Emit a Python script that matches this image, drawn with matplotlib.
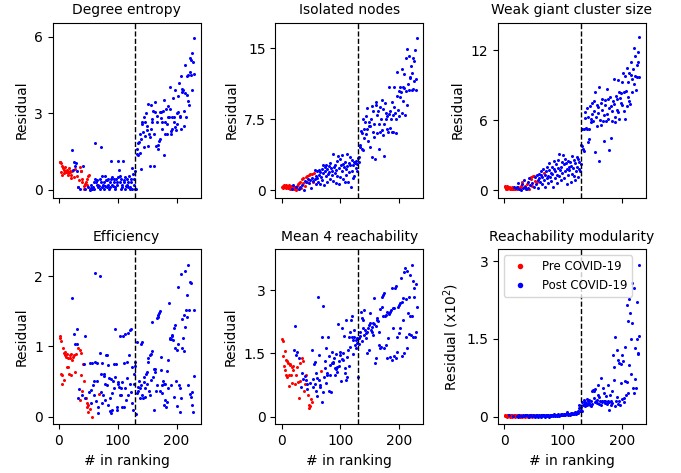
import numpy as np
import matplotlib
matplotlib.use("Agg")
import matplotlib.pyplot as plt

ranks = np.arange(1, 231)
cutoff = 130

titles = ["Degree entropy", "Isolated nodes", "Weak giant cluster size",
          "Efficiency", "Mean 4 reachability", "Reachability modularity"]
ylabels = ["Residual", "Residual", "Residual", "Residual", "Residual", "Residual (x10$^2$)"]
yticks = [[0, 3, 6], [0, 7.5, 15], [0, 6, 12], [0, 1, 2], [0, 1.5, 3], [0, 1.5, 3]]
yticklabels = [["0", "3", "6"], ["0", "7.5", "15"], ["0", "6", "12"],
               ["0", "1", "2"], ["0", "1.5", "3"], ["0", "1.5", "3"]]
xticks = [0, 100, 200]

# ---- Degree entropy ----
de_vals = [
    1.1, 1.1, 1.05, 0.7, 0.95, 0.6, 0.85, 0.8, 0.65, 0.75,
    0.9, 0.7, 0.75, 0.8, 0.6, 0.65, 0.85, 0.7, 0.75, 0.6,
    0.45, 0.75, 1.58, 0.8, 1.08, 0.5, 0.82, 0.95, 1.06, 0.76,
    0.55, 0.12, 0.1, 0.4, 0.04, 0.9, 0.75, 0.76, 0.43, 0.3,
    0.93, 0.17, 0.04, 0.24, 0.04, 0.33, 0.2, 0.43, 0.1, 0.56,
    0.6, 0.0, 0.05, 0.08, 0.2, 0.04, 0.02, 0.1, 0.3, 0.05,
    1.84, 0.43, 0.3, 0.2, 0.37, 0.1, 0.21, 0.15, 0.43, 0.04,
    1.67, 0.3, 0.56, 0.1, 0.2, 0.3, 0.04, 0.56, 0.15, 0.37,
    0.37, 0.1, 0.43, 0.2, 0.04, 0.3, 0.1, 1.15, 0.43, 0.2,
    0.5, 0.17, 0.3, 0.43, 0.04, 0.1, 0.43, 0.3, 0.2, 1.15,
    0.5, 0.78, 0.3, 0.56, 0.04, 0.43, 0.2, 0.1, 1.15, 0.3,
    0.37, 0.04, 0.5, 0.17, 0.43, 0.2, 0.3, 0.1, 0.56, 0.04,
    0.1, 0.43, 0.3, 0.86, 0.04, 0.63, 0.43, 0.2, 0.75, 0.04,
    0.04, 1.41, 1.6, 1.37, 1.84, 1.87, 2.2, 1.45, 0.82, 2.0,
    2.65, 2.59, 2.26, 1.7, 2.85, 2.1, 2.65, 3.0, 2.33, 2.5,
    1.71, 3.37, 2.2, 0.93, 2.07, 3.33, 2.4, 2.65, 2.78, 3.11,
    2.2, 0.93, 3.44, 3.07, 1.71, 2.65, 2.9, 1.61, 1.76, 1.93,
    2.0, 3.05, 2.8, 3.05, 2.68, 2.37, 3.1, 3.54, 1.37, 2.68,
    2.2, 3.18, 2.6, 2.2, 2.85, 3.3, 2.85, 4.03, 3.18, 2.3,
    2.2, 2.85, 2.39, 3.6, 2.68, 2.85, 3.9, 2.46, 2.33, 2.6,
    3.0, 3.67, 3.07, 4.2, 2.9, 2.85, 4.46, 2.39, 3.96, 3.83,
    3.9, 3.11, 2.52, 4.88, 3.8, 2.85, 3.7, 4.48, 4.5, 3.5,
    3.31, 4.6, 5.16, 5.07, 4.51, 3.9, 5.37, 5.0, 4.55, 5.96,
]
de_pre = list(range(1, 21)) + [21, 22, 26, 27, 31, 33, 34, 36, 37, 38, 39, 40,
                               42, 43, 44, 46, 47, 48, 50, 51, 53, 56, 67]

# ---- Isolated nodes ----
iso_vals = [
    0.3, 0.45, 0.2, 0.5, 0.35, 0.4, 0.25, 0.5, 0.3, 0.45,
    0.2, 0.35, 0.5, 0.15, 0.3, 0.4, 0.1, 0.25, 0.35, 0.5,
    0.1, 0.3, 0.2, 0.05, 0.35, 0.15, 0.4, 0.6, 0.1, 0.7,
    0.3, 0.9, 0.2, 1.2, 0.5, 0.7, 1.3, 0.05, 0.45, 1.0,
    1.4, 0.9, 0.8, 1.5, 1.2, 1.6, 0.7, 1.1, 1.7, 0.2,
    1.7, 1.3, 0.8, 1.0, 1.8, 2.1, 1.2, 0.6, 1.5, 2.0,
    1.3, 0.9, 2.1, 1.6, 0.6, 1.9, 1.4, 2.2, 1.1, 2.7,
    1.8, 0.5, 2.4, 2.0, 1.5, 2.7, 0.8, 2.2, 1.7, 2.5,
    1.9, 2.9, 1.2, 2.3, 1.6, 2.0, 1.0, 3.8, 2.4, 1.8,
    2.6, 0.7, 2.1, 3.1, 1.5, 3.6, 2.3, 0.6, 1.4, 3.3,
    2.7, 2.0, 3.7, 1.2, 2.8, 2.4, 0.9, 3.0, 2.2, 1.6,
    3.8, 2.5, 0.8, 2.9, 1.9, 3.5, 2.6, 0.3, 3.2, 2.0,
    1.3, 2.7, 3.0, 1.5, 2.9, 2.3, 3.1, 2.0, 2.8, 3.4,
    3.0, 3.46, 4.8, 4.5, 6.2, 4.3, 6.0, 4.2, 7.5, 5.5,
    6.5, 7.2, 5.9, 7.8, 6.5, 8.7, 5.2, 6.8, 7.2, 4.6,
    6.8, 7.5, 3.5, 8.9, 8.4, 6.1, 5.6, 7.0, 3.3, 9.0,
    9.3, 7.9, 6.0, 8.4, 7.0, 4.3, 6.1, 8.8, 7.5, 6.3,
    9.5, 5.8, 8.6, 7.0, 3.6, 9.2, 7.5, 8.2, 6.5, 7.8,
    6.1, 8.0, 10.9, 6.6, 8.4, 7.5, 6.1, 9.3, 6.1, 7.9,
    10.9, 8.8, 8.2, 6.0, 7.5, 10.0, 12.5, 8.5, 10.5, 7.8,
    10.9, 9.8, 10.4, 8.2, 12.8, 10.9, 9.4, 12.3, 10.8, 7.9,
    14.0, 10.5, 9.0, 14.9, 11.2, 10.6, 14.2, 11.8, 12.0, 13.1,
    10.6, 12.4, 14.0, 10.7, 11.5, 13.6, 14.8, 10.6, 11.7, 16.1,
]
iso_pre = list(range(1, 17)) + [18, 19, 21, 22, 23, 24, 26, 27, 28, 30, 32, 33, 34,
                                36, 37, 39, 41, 43, 44, 46, 49, 51, 53, 55]

# ---- Weak giant cluster size ----
wg_vals = [
    0.23, 0.37, 0.1, 0.09, 0.32, 0.15, 0.14, 0.23, 0.3, 0.05,
    0.09, 0.2, 0.1, 0.25, 0.09, 0.3, 0.05, 0.17, 0.12, 0.2,
    0.09, 0.3, 0.23, 0.6, 0.15, 0.1, 0.2, 0.37, 0.0, 0.5,
    0.66, 0.2, 0.23, 0.9, 0.3, 0.37, 0.1, 0.5, 0.09, 0.7,
    0.2, 0.09, 1.0, 0.4, 0.95, 1.09, 0.6, 0.37, 1.23, 0.3,
    1.23, 1.1, 0.8, 0.5, 1.3, 0.66, 0.9, 0.2, 1.4, 1.0,
    0.7, 1.3, 1.6, 0.5, 1.1, 1.8, 1.46, 0.9, 1.3, 0.3,
    1.6, 1.0, 2.0, 1.2, 0.6, 1.7, 2.3, 1.1, 1.5, 0.8,
    2.0, 1.4, 0.3, 1.8, 2.5, 1.0, 1.6, 2.2, 1.3, 0.6,
    2.6, 1.9, 1.2, 3.1, 1.7, 2.0, 0.9, 2.4, 1.5, 3.0,
    2.2, 1.0, 2.7, 1.6, 2.3, 0.5, 1.8, 2.5, 1.3, 2.0,
    1.7, 2.4, 0.7, 2.1, 1.4, 2.9, 1.9, 1.2, 2.6, 0.9,
    2.3, 1.6, 2.8, 2.0, 1.1, 2.7, 1.8, 2.4, 1.6, 2.2,
    3.87, 3.75, 5.2, 3.5, 3.38, 5.24, 6.2, 6.7, 5.3, 5.24,
    7.0, 6.3, 4.1, 4.38, 5.24, 7.2, 6.1, 5.8, 7.5, 6.5,
    5.9, 6.8, 7.6, 8.4, 3.24, 6.3, 7.25, 5.5, 7.1, 6.6,
    2.5, 8.8, 6.0, 7.5, 5.6, 7.8, 6.9, 5.9, 4.24, 6.4,
    7.7, 7.25, 5.9, 8.7, 6.5, 6.1, 7.8, 7.0, 3.47, 8.0,
    4.44, 7.2, 5.96, 6.8, 7.6, 9.5, 7.4, 6.3, 5.8, 8.1,
    6.9, 7.8, 6.7, 9.4, 8.4, 6.1, 7.9, 7.5, 8.3, 7.25,
    9.3, 10.0, 6.8, 8.4, 9.8, 6.1, 8.5, 7.2, 10.5, 8.0,
    9.25, 7.6, 10.0, 7.4, 9.9, 11.0, 8.4, 9.5, 10.4, 9.1,
    12.2, 9.8, 11.5, 8.6, 10.7, 9.7, 11.0, 11.8, 9.7, 13.1,
]
wg_pre = list(range(1, 16)) + [17, 18, 19, 21, 23, 25, 27, 28, 31, 33, 36, 38, 39,
                               42, 45, 46, 48, 49, 51, 53, 56, 67]

# ---- Efficiency ----
eff_vals = [
    1.14, 1.12, 0.6, 1.07, 0.46, 0.59, 0.98, 0.52, 0.9, 0.92,
    0.88, 0.85, 0.7, 0.89, 0.83, 0.71, 0.6, 0.87, 0.84, 0.59,
    0.89, 0.8, 1.69, 0.85, 1.18, 0.87, 1.04, 0.64, 0.89, 1.25,
    1.04, 0.97, 0.26, 0.39, 0.24, 0.95, 0.59, 0.9, 0.3, 0.37,
    0.75, 0.51, 0.75, 0.26, 1.15, 0.26, 0.19, 0.14, 0.07, 0.17,
    0.35, 0.76, 0.11, 0.2, 0.38, 0.76, 0.0, 0.45, 0.31, 0.5,
    0.78, 2.04, 0.22, 0.76, 0.5, 0.05, 0.13, 0.32, 0.9, 2.0,
    0.6, 0.35, 0.76, 0.19, 0.3, 0.6, 0.58, 0.46, 0.24, 0.88,
    0.87, 0.45, 0.74, 0.16, 0.55, 0.26, 0.08, 0.53, 0.05, 0.33,
    0.1, 0.5, 0.4, 0.75, 1.25, 0.56, 0.75, 0.14, 0.09, 0.49,
    0.47, 0.42, 0.3, 1.14, 0.31, 0.41, 0.49, 0.13, 1.15, 0.76,
    0.14, 1.17, 0.41, 0.23, 0.55, 0.77, 1.19, 0.31, 0.87, 0.47,
    1.23, 0.35, 1.25, 0.2, 0.71, 0.09, 0.46, 0.6, 0.78, 0.72,
    0.03, 1.06, 0.34, 0.37, 0.42, 0.5, 0.27, 0.4, 0.45, 1.04,
    1.06, 0.3, 0.26, 0.49, 0.57, 0.28, 0.4, 0.6, 0.64, 0.46,
    0.78, 0.83, 0.36, 0.31, 0.87, 0.52, 0.89, 0.93, 1.35, 0.57,
    0.1, 0.68, 0.63, 0.68, 0.36, 1.4, 0.45, 1.42, 1.45, 1.47,
    0.36, 1.5, 0.85, 0.66, 0.45, 0.33, 0.5, 0.17, 0.47, 0.46,
    0.24, 0.14, 0.21, 0.65, 0.4, 0.81, 1.61, 1.1, 1.12, 1.11,
    0.45, 1.14, 1.16, 1.09, 0.28, 1.26, 1.31, 0.97, 0.5, 0.95,
    0.15, 1.03, 1.84, 0.45, 0.07, 0.41, 0.26, 2.03, 1.39, 0.97,
    1.12, 1.44, 0.93, 2.07, 1.27, 1.52, 1.42, 1.73, 0.45, 2.16,
    1.52, 0.32, 1.92, 0.28, 1.9, 0.35, 0.16, 0.07, 1.52, 0.58,
]
eff_pre = list(range(1, 23)) + [24, 26, 28, 29, 32, 35, 36, 37, 38, 40, 41, 42,
                                46, 47, 48, 49, 50, 53, 57, 68]

# ---- Mean 4 reachability ----
m4_vals = [
    1.84, 1.8, 1.45, 1.21, 1.56, 1.11, 0.99, 1.35, 1.31, 0.95,
    1.27, 1.0, 0.74, 1.24, 1.23, 1.0, 1.19, 0.8, 1.21, 1.1,
    1.58, 0.77, 2.15, 1.46, 0.99, 1.54, 1.19, 0.82, 1.39, 0.44,
    1.27, 0.85, 0.7, 1.03, 1.39, 0.9, 1.31, 0.6, 0.77, 0.96,
    1.0, 0.87, 0.78, 0.65, 0.51, 0.28, 0.21, 0.26, 0.8, 0.42,
    0.36, 1.58, 0.71, 0.9, 1.24, 0.78, 1.29, 0.6, 1.03, 0.91,
    0.5, 2.85, 1.46, 0.87, 0.75, 0.71, 1.08, 1.9, 0.34, 2.63,
    0.59, 0.95, 1.31, 1.16, 0.8, 1.62, 1.03, 1.0, 1.88, 1.43,
    0.62, 1.23, 0.99, 0.58, 1.27, 1.54, 1.27, 1.3, 1.39, 1.16,
    0.99, 1.12, 1.48, 1.05, 1.19, 2.19, 1.31, 1.2, 1.53, 1.46,
    0.85, 2.11, 1.37, 1.5, 1.35, 1.92, 1.03, 1.16, 0.88, 2.3,
    1.42, 0.95, 1.58, 1.88, 1.2, 2.0, 1.65, 2.3, 1.9, 2.38,
    1.48, 1.82, 2.06, 1.88, 1.7, 1.62, 1.82, 1.75, 1.86, 0.95,
    1.86, 1.72, 1.92, 2.0, 2.49, 1.8, 2.34, 2.1, 2.3, 2.53,
    1.95, 2.05, 1.86, 1.98, 1.5, 2.02, 2.1, 1.58, 2.18, 2.22,
    2.46, 2.06, 2.02, 2.14, 1.95, 2.22, 2.81, 2.2, 1.27, 2.16,
    1.39, 2.3, 2.34, 2.26, 2.0, 1.7, 1.62, 2.55, 1.66, 2.85,
    2.61, 2.4, 2.89, 1.62, 2.93, 2.38, 2.41, 1.7, 2.49, 1.39,
    1.86, 2.44, 2.45, 2.49, 1.42, 2.53, 3.05, 1.35, 2.1, 2.57,
    1.45, 2.59, 3.06, 3.09, 1.4, 1.9, 1.53, 2.6, 1.98, 2.65,
    2.69, 2.1, 3.3, 1.45, 2.73, 2.3, 2.81, 1.52, 3.43, 3.52,
    1.88, 2.8, 1.64, 3.46, 2.45, 2.85, 1.96, 3.37, 2.38, 1.94,
    3.6, 2.38, 1.9, 3.21, 2.85, 3.05, 1.9, 2.02, 3.15, 2.61,
]
m4_pre = list(range(1, 21)) + [22, 25, 27, 28, 30, 31, 32, 35, 37, 38, 39, 41,
                               45, 46, 47, 48, 50, 51, 67]

# ---- Reachability modularity (x10^2) ----
rm_vals = [
    0.01, 0.02, 0.01, 0.0, 0.02, 0.01, 0.03, 0.01, 0.02, 0.0,
    0.02, 0.01, 0.0, 0.03, 0.01, 0.02, 0.01, 0.0, 0.02, 0.01,
    0.01, 0.03, 0.0, 0.02, 0.01, 0.02, 0.0, 0.01, 0.03, 0.01,
    0.0, 0.02, 0.01, 0.01, 0.03, 0.0, 0.02, 0.01, 0.02, 0.0,
    0.01, 0.02, 0.0, 0.03, 0.01, 0.02, 0.01, 0.0, 0.02, 0.01,
    0.02, 0.0, 0.01, 0.03, 0.01, 0.02, 0.0, 0.01, 0.02, 0.01,
    0.01, 0.02, 0.0, 0.02, 0.01, 0.03, 0.01, 0.02, 0.0, 0.01,
    0.02, 0.01, 0.03, 0.01, 0.02, 0.0, 0.01, 0.03, 0.02, 0.01,
    0.02, 0.03, 0.01, 0.02, 0.04, 0.01, 0.03, 0.02, 0.01, 0.03,
    0.02, 0.04, 0.01, 0.03, 0.02, 0.04, 0.03, 0.02, 0.05, 0.03,
    0.04, 0.02, 0.05, 0.03, 0.04, 0.06, 0.09, 0.03, 0.05, 0.04,
    0.05, 0.03, 0.06, 0.04, 0.05, 0.07, 0.04, 0.06, 0.05, 0.08,
    0.06, 0.05, 0.08, 0.07, 0.1, 0.06, 0.16, 0.22, 0.1, 0.13,
    0.19, 0.28, 0.1, 0.22, 0.32, 0.24, 0.29, 0.2, 0.26, 0.22,
    0.34, 0.25, 0.3, 0.32, 0.27, 0.22, 0.2, 0.3, 0.24, 0.5,
    0.51, 0.49, 0.35, 0.28, 0.53, 0.3, 0.32, 0.26, 0.42, 0.6,
    0.24, 0.37, 0.3, 0.74, 0.22, 0.28, 0.3, 0.55, 0.3, 0.45,
    0.26, 0.3, 0.4, 0.25, 0.26, 0.61, 0.3, 0.28, 0.13, 0.42,
    0.22, 0.3, 0.5, 0.26, 1.19, 0.96, 0.71, 0.2, 1.53, 0.3,
    0.38, 1.28, 1.09, 0.25, 0.3, 1.03, 0.22, 1.02, 0.64, 1.18,
    0.34, 1.08, 0.35, 0.28, 0.68, 1.35, 0.42, 2.15, 0.67, 1.85,
    0.45, 1.0, 2.28, 2.0, 1.5, 0.83, 2.58, 1.8, 0.55, 0.45,
    2.48, 1.32, 0.72, 0.55, 2.22, 1.5, 1.2, 1.22, 2.92, 1.55,
]
rm_pre = list(range(1, 9)) + [10, 11, 12, 13, 14, 16, 17, 18, 19, 20, 22, 24, 25, 27,
                              29, 31, 33, 36, 38, 40, 42, 45, 48, 51, 55, 60]

panel_vals = [de_vals, iso_vals, wg_vals, eff_vals, m4_vals, rm_vals]
panel_pre = [de_pre, iso_pre, wg_pre, eff_pre, m4_pre, rm_pre]
ylims = [(-0.30, 6.55), (-0.8, 17.7), (-0.65, 14.35), (-0.11, 2.38), (-0.18, 3.97), (-0.15, 3.23)]

fig, axes = plt.subplots(2, 3, figsize=(6.81, 4.73), dpi=100, sharex=True)
fig.subplots_adjust(left=0.0775, right=0.9485, top=0.952, bottom=0.103, wspace=0.505, hspace=0.296)

for i, ax in enumerate(axes.flat):
    y = np.array(panel_vals[i])
    pre = np.isin(ranks, panel_pre[i])
    ax.plot(ranks[pre], y[pre], 'o', ms=2.2, mew=0, color='red', label='Pre COVID-19')
    ax.plot(ranks[~pre], y[~pre], 'o', ms=2.2, mew=0, color='blue', label='Post COVID-19')
    ax.axvline(cutoff, color='k', ls='--', lw=1)
    ax.set_title(titles[i], fontsize=10)
    ax.set_ylabel(ylabels[i], fontsize=10)
    ax.set_yticks(yticks[i])
    ax.set_yticklabels(yticklabels[i])
    ax.set_ylim(*ylims[i])
    ax.set_xlim(-10.5, 241)
    ax.set_xticks(xticks)
    ax.tick_params(labelsize=10)
    if i >= 3:
        ax.set_xlabel("# in ranking", fontsize=10)

axes[1, 2].legend(loc='upper left', fontsize=8.5, markerscale=1.8)

fig.savefig("out.png", dpi=100)
